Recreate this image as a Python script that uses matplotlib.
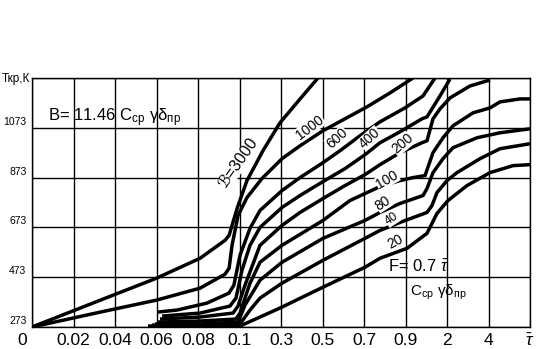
import numpy as np
import matplotlib
matplotlib.use('Agg')
import matplotlib.pyplot as plt
from matplotlib import font_manager
from matplotlib.transforms import ScaledTranslation

names = {f.name for f in font_manager.fontManager.ttflist}
FONT = 'Liberation Sans Narrow' if 'Liberation Sans Narrow' in names else 'Liberation Sans'
NARROW = FONT == 'Liberation Sans Narrow'
plt.rcParams['font.family'] = [FONT, 'DejaVu Sans']
plt.rcParams['mathtext.fontset'] = 'custom'
plt.rcParams['mathtext.rm'] = FONT
plt.rcParams['mathtext.it'] = FONT + ':italic'
plt.rcParams['mathtext.bf'] = FONT + ':bold'

# axis ticks (piecewise tau axis)
tau_ticks = [0, 0.02, 0.04, 0.06, 0.08, 0.1, 0.3, 0.5, 0.7, 0.9, 2, 4, 6]
tau_labels = ['0', '0.02', '0.04', '0.06', '0.08', '0.1', '0.3', '0.5',
              '0.7', '0.9', '2', '4', r'$\bar{\tau}$']
T_ticks = [273, 473, 673, 873, 1073]
T_top = 1273

# curves: tau and T (K) for each B
tau_3000 = [0, 0.033, 0.060, 0.081, 0.093, 0.095, 0.0964, 0.099, 0.136, 0.213, 0.295, 0.392, 0.478]
T_3000 = [273, 381, 469, 549, 621, 641, 681, 753, 861, 981, 1093, 1189, 1273]

tau_1000 = [0, 0.033, 0.060, 0.081, 0.093, 0.095, 0.0964, 0.0993, 0.136, 0.208, 0.305,
            0.392, 0.502, 0.608, 0.714, 0.825, 1.099]
T_1000 = [273, 333, 381, 429, 485, 509, 601, 721, 793, 869, 949, 1001, 1061, 1109, 1157, 1213, 1273]

tau_600 = [0.0607, 0.0699, 0.0843, 0.0949, 0.0973, 0.1024, 0.1506, 0.1988, 0.3048, 0.3916,
           0.5024, 0.5843, 0.6807, 0.7771, 0.8976, 1.3639, 1.6819]
T_600 = [333, 341, 369, 409, 441, 561, 669, 741, 821, 873, 933, 981, 1041, 1097, 1153, 1201, 1273]

tau_400 = [0.0627, 0.0810, 0.0954, 0.0983, 0.1120, 0.1506, 0.1988, 0.3048, 0.3916, 0.5024,
           0.6084, 0.7048, 0.7771, 0.8735, 1.3373, 1.4699, 1.8145, 2.1446]
T_400 = [317, 329, 357, 389, 501, 601, 673, 753, 801, 857, 909, 965, 1013, 1057, 1109, 1117, 1201, 1269]

tau_200 = [0.0617, 0.0810, 0.0969, 0.0993, 0.1265, 0.1988, 0.3048, 0.3916, 0.5024, 0.6084,
           0.7048, 0.7771, 0.8735, 1.3373, 1.4699, 1.6289, 1.8145, 2.1446, 3.1084, 4.0723]
T_200 = [305, 313, 329, 357, 441, 601, 681, 733, 789, 841, 885, 925, 973, 1013, 1021, 1109,
         1149, 1193, 1241, 1265]

tau_100 = [0.0607, 0.0810, 0.0983, 0.1024, 0.1506, 0.1988, 0.3048, 0.5024, 0.6325, 0.7771,
           0.8735, 1.0988, 1.4169, 1.6289, 1.8940, 2.2892, 3.2530, 4.0723, 4.5542, 5.5181, 6.0]
T_100 = [293, 297, 305, 329, 449, 533, 601, 701, 781, 837, 861, 873, 881, 973, 1033, 1081,
         1133, 1153, 1177, 1189, 1189]

tau_80 = [0.0593, 0.0810, 0.0993, 0.1265, 0.1988, 0.3048, 0.5024, 0.7048, 0.7771, 0.8735,
          1.3639, 1.4699, 1.6289, 1.8940, 2.2892, 3.4458, 4.5542, 6.0]
T_80 = [285, 285, 293, 361, 461, 533, 629, 701, 733, 769, 801, 829, 893, 949, 993, 1033, 1053, 1069]

tau_40 = [0.0578, 0.0810, 0.1024, 0.1506, 0.1988, 0.3048, 0.5024, 0.7048, 0.7771, 0.8735,
          1.4699, 1.6024, 1.7349, 2.0, 2.4819, 3.5904, 4.5542, 6.0]
T_40 = [281, 281, 285, 341, 389, 449, 541, 629, 661, 693, 733, 761, 813, 861, 893, 949, 989, 1009]

tau_20 = [0.0559, 0.0810, 0.1024, 0.1988, 0.3048, 0.5024, 0.7048, 0.7771, 0.9398, 1.4699,
          1.5494, 1.7349, 2.0482, 2.9639, 4.0723, 5.1807, 6.0]
T_20 = [277, 277, 277, 313, 353, 433, 513, 549, 589, 649, 673, 729, 781, 841, 893, 921, 925]

curves = [(tau_3000, T_3000), (tau_1000, T_1000), (tau_600, T_600), (tau_400, T_400),
          (tau_200, T_200), (tau_100, T_100), (tau_80, T_80), (tau_40, T_40), (tau_20, T_20)]

idx = np.arange(len(tau_ticks))


def fwd(x):
    return np.interp(x, tau_ticks, idx)


def inv(u):
    return np.interp(u, idx, tau_ticks)


fig = plt.figure(figsize=(5.37, 3.49), dpi=100)
ax = fig.add_axes([32 / 537, 1 - 327 / 349, 498 / 537, 249 / 349])
ax.set_xscale('function', functions=(fwd, inv))
ax.set_xlim(0, 6)
ax.set_ylim(273, T_top)

for t, T in curves:
    ax.plot(t, T, color='black', lw=2.5, solid_joinstyle='miter', solid_capstyle='butt', zorder=3)

ax.set_xticks(tau_ticks, tau_labels, fontsize=15 if NARROW else 12.5)
ax.xaxis.set_minor_locator(matplotlib.ticker.NullLocator())
ax.set_yticks(T_ticks + [T_top], [str(v) for v in T_ticks] + [''], fontsize=8.5 if NARROW else 7.5)
ax.tick_params(length=0, pad=4)
ax.grid(True, color='black', lw=1.0, zorder=1)
for s in ax.spines.values():
    s.set_linewidth(1.0)

# shift tick labels like in the scan
for lab in ax.get_yticklabels():
    lab.set_transform(lab.get_transform() + ScaledTranslation(0, 7 / 100, fig.dpi_scale_trans))
ax.get_xticklabels()[0].set_transform(
    ax.get_xticklabels()[0].get_transform() + ScaledTranslation(-10 / 100, 0, fig.dpi_scale_trans))

fig.text(30 / 537, 1 - 79 / 349, 'Ткр,К', ha='right', va='center', fontsize=8.5)

# curve labels
lab_kw = dict(ha='center', va='center', zorder=4, fontsize=12 if NARROW else 10,
              bbox=dict(facecolor='white', edgecolor='none', pad=0.2))
ax.text(0.0995, 930, 'ℬ=3000', rotation=55, family=[FONT, 'DejaVu Sans'],
        **dict(lab_kw, fontsize=14 if NARROW else 11.5))
ax.text(0.440, 1075, '1000', rotation=37, **lab_kw)
ax.text(0.570, 1031, '600', rotation=42, **lab_kw)
ax.text(0.729, 1031, '400', rotation=42, **lab_kw)
ax.text(0.888, 1009, '200', rotation=40, **lab_kw)
ax.text(0.811, 865, '100', rotation=30, **lab_kw)
ax.text(0.792, 771, '80', rotation=33, **lab_kw)
ax.text(0.835, 707, '40', rotation=33, **dict(lab_kw, fontsize=10 if NARROW else 8.5))
ax.text(0.849, 615, '20', rotation=28, **lab_kw)

big = 14 if NARROW else 12
ax.text(0.0075, 1113, r'B= 11.46 C$_{\mathrm{ср}}$ γδ$_{\mathrm{пр}}$', ha='left', va='center',
        fontsize=big, zorder=4)
fig.text(388 / 537, 1 - 267 / 349, r'F= 0.7 $\bar{\tau}$', ha='left', va='center', fontsize=big)
fig.text(410 / 537, 1 - 292 / 349, r'C$_{\mathrm{ср}}$ γδ$_{\mathrm{пр}}$', ha='left', va='center',
         fontsize=big - 1)

fig.savefig('out.png', dpi=100)
